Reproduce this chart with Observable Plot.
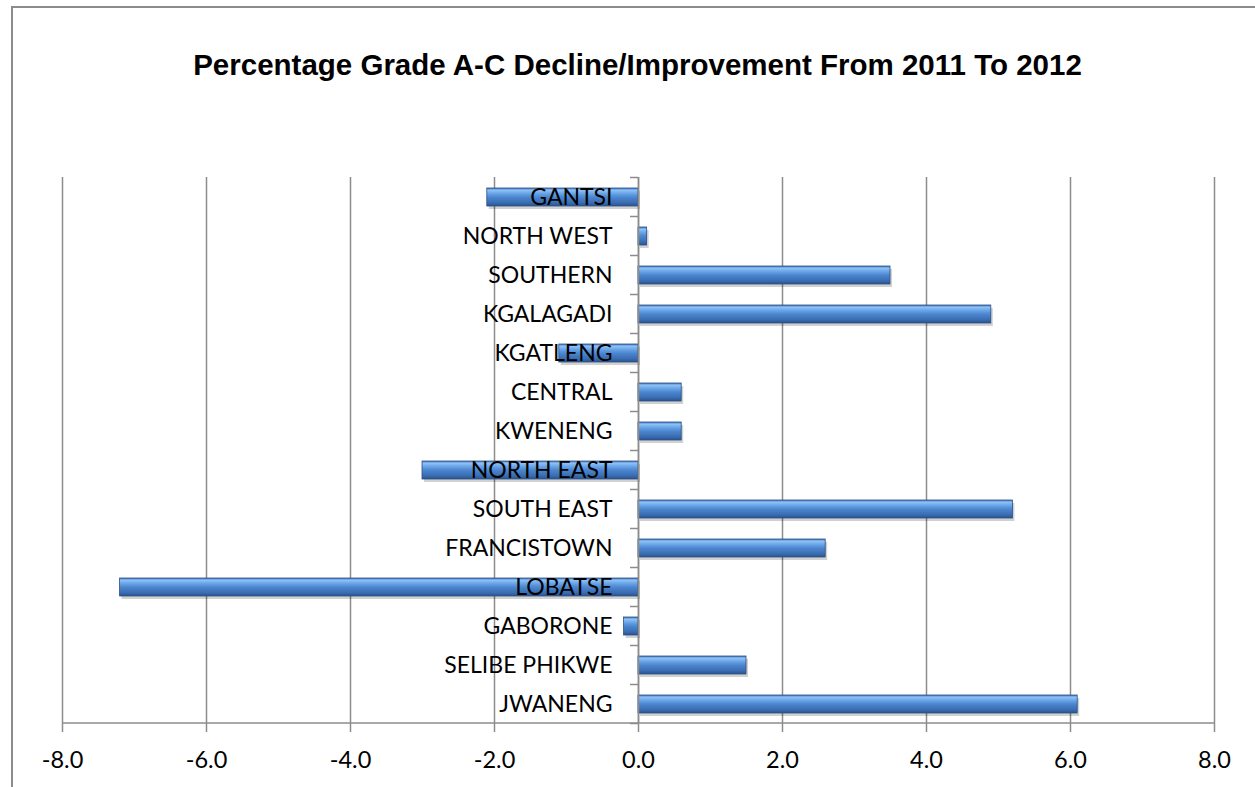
<!DOCTYPE html>
<html><head><meta charset="utf-8">
<script src="https://cdn.jsdelivr.net/npm/d3@7"></script>
<script src="https://cdn.jsdelivr.net/npm/@observablehq/plot@0.6"></script>
<style>
body{margin:0;background:#fff;}
#wrap{position:relative;width:1255px;height:787px;overflow:hidden;background:#fff;}
#border{position:absolute;left:11px;top:6px;right:-10px;bottom:-10px;border-left:2px solid #8c8c8c;border-top:2px solid #8c8c8c;}
#title{position:absolute;left:10px;width:1255px;top:50px;text-align:center;font-family:"Liberation Sans",Arial,sans-serif;font-weight:bold;font-size:29.5px;line-height:1;color:#000;}
#chart{position:absolute;left:0;top:100px;}
</style>
</head><body>
<div id="wrap">
  <div id="border"></div>
  <div id="title">Percentage Grade A-C Decline/Improvement From 2011 To 2012</div>
  <div id="chart"></div>
</div>
<script>
const regions = ["GANTSI","NORTH WEST","SOUTHERN","KGALAGADI","KGATLENG","CENTRAL","KWENENG","NORTH EAST","SOUTH EAST","FRANCISTOWN","LOBATSE","GABORONE","SELIBE PHIKWE","JWANENG"];
const changes = [-2.1, 0.12, 3.5, 4.9, -1.1, 0.6, 0.6, -3.0, 5.2, 2.6, -7.2, -0.2, 1.5, 6.1];
const xTicks = [-8, -6, -4, -2, 0, 2, 4, 6, 8];

const data = regions.map((r, i) => ({region: r, value: changes[i]}));
const W = 1255, H = 687, ML = 62, MR = 41, MT = 77, MB = 64;
const grey = "#8c8c8c";
const fmt = d => d.toFixed(1);

const defs = () => {
  const d = d3.create("svg:defs");
  const g = d.append("linearGradient").attr("id", "bevel").attr("x1", 0).attr("y1", 0).attr("x2", 0).attr("y2", 1);
  [[0, "#3d72b8"], [0.12, "#8fc2f6"], [0.3, "#6aa5e8"], [0.5, "#4c87d0"], [0.8, "#3b6eb3"], [1, "#2a5590"]]
    .forEach(([o, c]) => g.append("stop").attr("offset", o).attr("stop-color", c));
  return d.node();
};

const axisDetails = (index, scales, values, dim) => {
  const g = d3.create("svg:g").attr("stroke", grey).attr("stroke-width", 1.5);
  const x0 = scales.x(0);
  const y = scales.y;
  const step = y.step(), off = (step - y.bandwidth()) / 2;
  const ys = regions.map(r => y(r) - off);
  ys.push(ys[ys.length - 1] + step);
  g.selectAll("line.t").data(ys).join("line").attr("class", "t")
    .attr("x1", x0 - 8).attr("x2", x0).attr("y1", d => d).attr("y2", d => d);
  const yb = dim.height - dim.marginBottom;
  g.append("line").attr("x1", dim.marginLeft).attr("x2", dim.width - dim.marginRight).attr("y1", yb).attr("y2", yb);
  return g.node();
};

const chart = Plot.plot({
  width: W, height: H,
  marginLeft: ML, marginRight: MR, marginTop: MT, marginBottom: MB,
  style: {fontFamily: "Lato, 'Open Sans', sans-serif", fontSize: "22px", color: "#000", background: "transparent", overflow: "visible"},
  x: {domain: [-8, 8], ticks: xTicks, tickFormat: fmt},
  y: {domain: regions, paddingInner: 0.55, paddingOuter: 0.275, axis: null},
  marks: [
    defs,
    Plot.gridX(xTicks, {stroke: grey, strokeOpacity: 1, strokeWidth: 1.5}),
    Plot.axisX(xTicks, {tickSize: 9, tickPadding: 19, stroke: grey, strokeWidth: 1.5, fill: "#000", tickFormat: fmt, label: null, fontSize: 23.5}),
    Plot.barX(data, {x: "value", y: "region", fill: "#000", fillOpacity: 0.18, dx: 2, dy: 3}),
    Plot.barX(data, {x: "value", y: "region", fill: "url(#bevel)", stroke: "#2b4f86", strokeWidth: 0.8}),
    Plot.ruleX([0], {stroke: grey, strokeWidth: 1.5}),
    axisDetails,
    Plot.text(data, {x: () => 0, y: "region", text: "region", dx: -26, textAnchor: "end", fontSize: 23, fill: "#000"})
  ]
});
document.getElementById("chart").appendChild(chart);
</script>
</body></html>
